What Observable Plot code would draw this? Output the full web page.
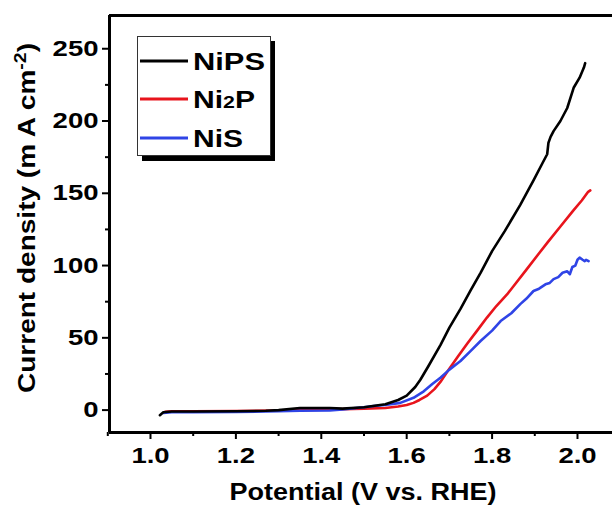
<!DOCTYPE html>
<html>
<head>
<meta charset="utf-8">
<script src="https://cdn.jsdelivr.net/npm/d3@7"></script>
<script src="https://cdn.jsdelivr.net/npm/@observablehq/plot@0.6"></script>
<style>
  html, body { margin: 0; padding: 0; background: #fff; overflow: hidden; }
  #chart svg { display: block; font-family: "Liberation Sans", Arial, sans-serif; }
</style>
</head>
<body>
<div id="chart"></div>
<script>
// ---- data ----
const seriesNames = ["NiPS", "Ni2P", "NiS"];
const seriesColors = ["#000000", "#e8141c", "#2f44e6"];
const drawOrder = ["Ni2P", "NiS", "NiPS"];

const nipsV = [1.022,1.03,1.05,1.1,1.2,1.27,1.3,1.35,1.42,1.45,1.5,1.55,1.58,1.6,1.62,1.632,1.65,1.679,1.7,1.726,1.75,1.773,1.8,1.83,1.866,1.897,1.92,1.929,1.932,1.937,1.944,1.96,1.976,1.991,2.005,2.015,2.018];
const nipsJ = [-3.5,-1.5,-1,-1,-0.8,-0.5,0,1.5,1.5,1,2,4,7,10,16,21,30,45,57,70,83,95,110,124,142,159,172,177,185,189,193,200,209,223,230,237,240];

const ni2pV = [1.035,1.05,1.1,1.2,1.3,1.4,1.5,1.55,1.58,1.6,1.616,1.63,1.648,1.665,1.679,1.695,1.72,1.742,1.765,1.788,1.81,1.835,1.851,1.88,1.906,1.93,1.96,1.99,2.01,2.025,2.03];
const ni2pJ = [-1.2,-0.8,-0.8,-0.6,-0.3,0.3,1,1.5,2.5,3.5,5,7,10,14.5,19.5,26.5,37,46,55,64,72,80,86,97,107,116,127,138,145,151,152];

const nisV = [1.03,1.05,1.1,1.2,1.27,1.3,1.35,1.42,1.45,1.5,1.523,1.55,1.585,1.616,1.64,1.66,1.679,1.7,1.726,1.75,1.773,1.8,1.82,1.845,1.866,1.88,1.897,1.91,1.925,1.935,1.944,1.955,1.965,1.976,1.982,1.988,1.995,2.0,2.005,2.012,2.017,2.02,2.026];
const nisJ = [-2,-1.5,-1.5,-1.2,-1,-0.8,-0.5,-0.3,0.5,2,2.8,3.5,5,8.5,13,18,22.4,28,34,41,47.8,55,61.6,67,73.3,77,82.4,84,87,88,90.6,92,95,96,94,99,100,104,105.5,104,103,104,103];

const xMajorTicks = [1.0, 1.2, 1.4, 1.6, 1.8, 2.0];
const xMinorTicks = [0.9, 1.1, 1.3, 1.5, 1.7, 1.9];
const yMajorTicks = [0, 50, 100, 150, 200, 250];
const yMinorTicks = [25, 75, 125, 175, 225];

const xDomain = [0.904, 2.082];
const yDomain = [-15.5, 273];

// ---- table for Plot ----
const bySeries = {NiPS: [nipsV, nipsJ], Ni2P: [ni2pV, ni2pJ], NiS: [nisV, nisJ]};
const rows = [];
drawOrder.forEach(name => {
  const [vs, js] = bySeries[name];
  vs.forEach((v, k) => rows.push({series: name, V: v, J: js[k]}));
});

const chart = Plot.plot({
  width: 612,
  height: 506,
  marginLeft: 109,
  marginRight: 0,
  marginTop: 15,
  marginBottom: 74,
  style: {fontFamily: "Liberation Sans, Arial, sans-serif", color: "#000", background: "#fff"},
  x: {domain: xDomain},
  y: {domain: yDomain},
  color: {domain: seriesNames, range: seriesColors},
  marks: [
    Plot.line(rows, {x: "V", y: "J", z: "series", stroke: "series", strokeWidth: 2.6, strokeLinejoin: "round", strokeLinecap: "round"}),
    Plot.axisX({ticks: xMajorTicks, tickSize: 7, strokeWidth: 2, tickPadding: 8, tickFormat: d3.format(".1f"), fontSize: 22, fontWeight: "bold", label: null}),
    Plot.axisX({ticks: xMinorTicks, tickSize: 4, strokeWidth: 2, tickFormat: () => "", label: null}),
    Plot.axisY({ticks: yMajorTicks, tickSize: 7, strokeWidth: 2, tickPadding: 4, fontSize: 22, fontWeight: "bold", label: null}),
    Plot.axisY({ticks: yMinorTicks, tickSize: 4, strokeWidth: 2, tickFormat: () => "", label: null}),
    Plot.ruleX([xDomain[0]], {strokeWidth: 3}),
    Plot.ruleY([yDomain[0]], {strokeWidth: 3}),
    Plot.ruleY([yDomain[1]], {strokeWidth: 3})
  ]
});

document.getElementById("chart").appendChild(chart);

function stretch(node, factor) {
  const len = node.getComputedTextLength();
  node.setAttribute("textLength", (len * factor).toFixed(1));
  node.setAttribute("lengthAdjust", "spacingAndGlyphs");
}

// widen tick labels (the reference lettering is horizontally stretched)
d3.select(chart).selectAll("text").each(function () {
  if (this.textContent.trim() !== "") stretch(this, 1.25);
});

// ---- axis titles and legend ----
const svg = d3.select(chart);
svg.append("text")
  .attr("x", 363).attr("y", 500)
  .attr("text-anchor", "middle")
  .attr("font-size", 23).attr("font-weight", "bold")
  .attr("textLength", 267).attr("lengthAdjust", "spacingAndGlyphs")
  .text("Potential (V vs. RHE)");

const yt = svg.append("text")
  .attr("transform", "translate(35,218) rotate(-90)")
  .attr("text-anchor", "middle")
  .attr("font-size", 23).attr("font-weight", "bold")
  .attr("textLength", 350).attr("lengthAdjust", "spacingAndGlyphs");
yt.append("tspan").text("Current density (m A cm");
yt.append("tspan").attr("font-size", 16).attr("dy", -9).text("-2");
yt.append("tspan").attr("dy", 9).text(")");

const lg = svg.append("g").attr("text-anchor", "start");
lg.append("rect").attr("x", 142).attr("y", 41).attr("width", 133).attr("height", 120).attr("fill", "#000");
lg.append("rect").attr("x", 137.5).attr("y", 36.5).attr("width", 133).attr("height", 119).attr("fill", "#fff").attr("stroke", "#333").attr("stroke-width", 1);
const ly = [61, 99, 138];
const lw = [72, 62, 50];
seriesNames.forEach((name, i) => {
  lg.append("line").attr("x1", 140).attr("x2", 188).attr("y1", ly[i]).attr("y2", ly[i])
    .attr("stroke", seriesColors[i]).attr("stroke-width", 3);
  const t = lg.append("text").attr("x", 193).attr("y", ly[i] + 8.5)
    .attr("text-anchor", "start")
    .attr("font-size", 24).attr("font-weight", "bold")
    .attr("textLength", lw[i]).attr("lengthAdjust", "spacingAndGlyphs");
  if (name === "Ni2P") {
    t.append("tspan").text("Ni");
    t.append("tspan").attr("font-size", 17).text("2");
    t.append("tspan").text("P");
  } else {
    t.text(name);
  }
});
</script>
</body>
</html>
